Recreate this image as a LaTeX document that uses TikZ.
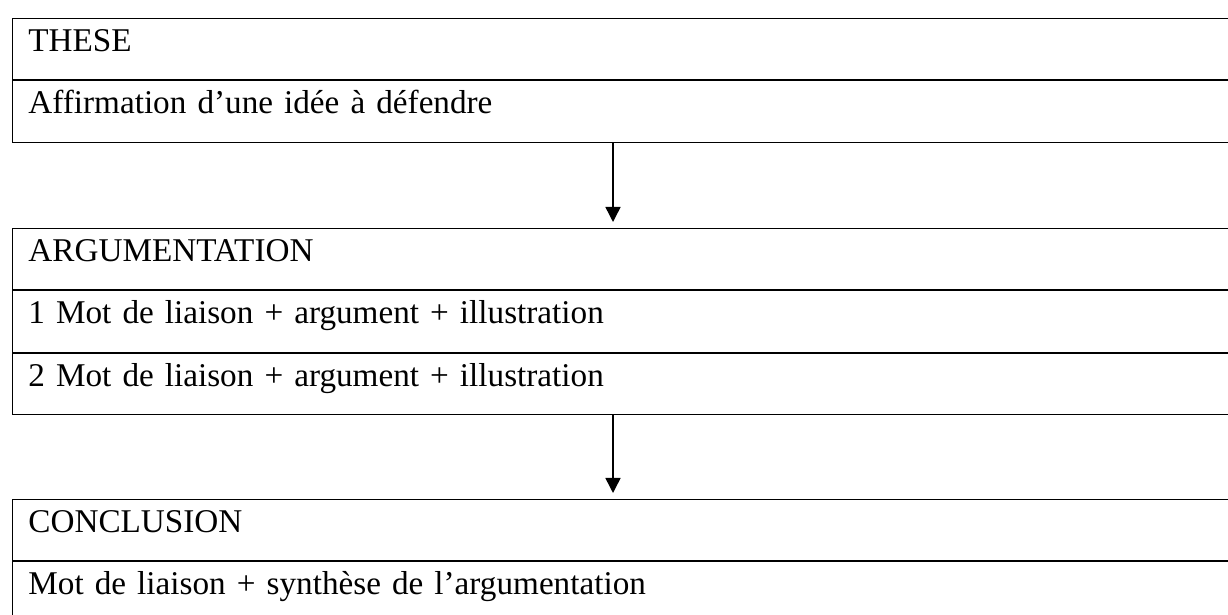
\documentclass[tikz,border=0pt]{standalone}
\usepackage{fontspec}
\setmainfont{Liberation Serif}
\usetikzlibrary{arrows.meta}
\begin{document}
\begin{tikzpicture}[x=1pt,y=1pt,
  rowbox/.style={draw=black, line width=0.9pt, anchor=north west,
    inner xsep=16.5pt, inner ysep=0pt, text height=33pt, text depth=28.5pt,
    text width=1250pt, align=left,
    font=\fontsize{33.2pt}{40pt}\selectfont},
  flow/.style={line width=1.5pt, -{Triangle[width=15pt,length=15pt]}, shorten >=6pt}]
  \useasboundingbox (0,0) rectangle (1228,615);
  \clip (0,0) rectangle (1228,615);

  % thesis
  \node[rowbox] (t1) at (11.5,597) {THESE};
  \node[rowbox] (t2) at (t1.south west) {Affirmation d’une idée à défendre};

  % argumentation
  \node[rowbox] (a1) at (11.5,387) {ARGUMENTATION};
  \node[rowbox] (a2) at (a1.south west) {1 Mot de liaison + argument + illustration};
  \node[rowbox] (a3) at (a2.south west) {2 Mot de liaison + argument + illustration};

  % conclusion
  \node[rowbox] (c1) at (11.5,116) {CONCLUSION};
  \node[rowbox] (c2) at (c1.south west) {Mot de liaison + synthèse de l’argumentation};

  % connectors
  \coordinate (ax) at (613,0);
  \draw[flow] (ax |- t2.south) -- (ax |- a1.north);
  \draw[flow] (ax |- a3.south) -- (ax |- c1.north);
\end{tikzpicture}
\end{document}
